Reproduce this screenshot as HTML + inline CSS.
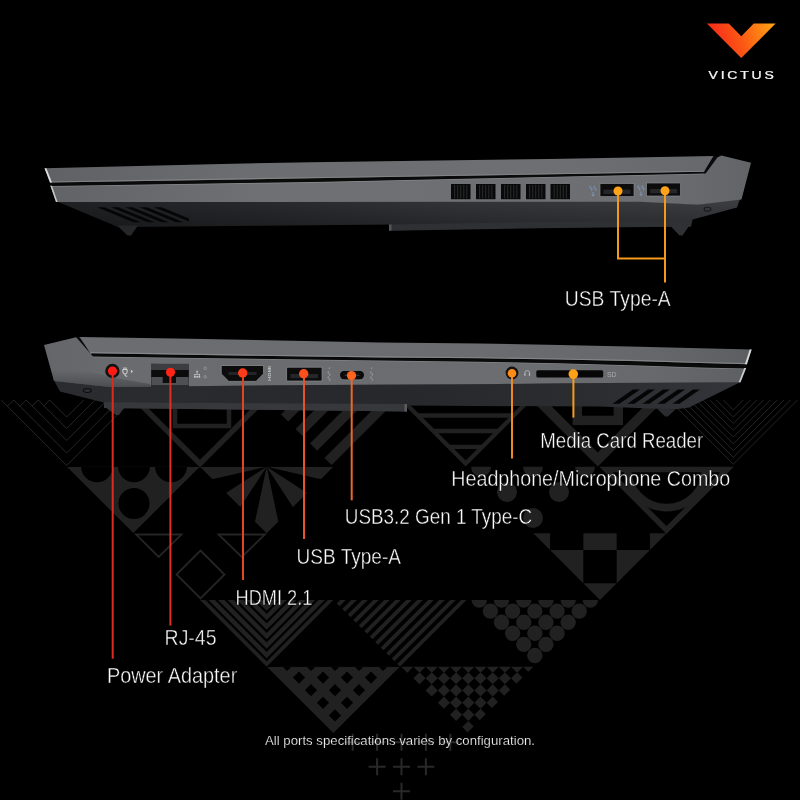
<!DOCTYPE html>
<html><head><meta charset="utf-8"><title>Victus ports</title>
<style>
html,body{margin:0;padding:0;background:#000;}
body{width:800px;height:800px;overflow:hidden;font-family:"Liberation Sans",sans-serif;}
svg{display:block;}
</style></head><body>
<svg width="800" height="800" viewBox="0 0 800 800">
<defs>

<linearGradient id="gLidT" x1="44" y1="0" x2="714" y2="0" gradientUnits="userSpaceOnUse">
 <stop offset="0" stop-color="#5f6164"/><stop offset="0.3" stop-color="#6b6d70"/><stop offset="0.75" stop-color="#6d6f72"/><stop offset="1" stop-color="#66686b"/></linearGradient>
<linearGradient id="gBaseT" x1="50" y1="0" x2="750" y2="0" gradientUnits="userSpaceOnUse">
 <stop offset="0" stop-color="#616366"/><stop offset="0.3" stop-color="#6e7073"/><stop offset="0.85" stop-color="#6c6e71"/><stop offset="1" stop-color="#626467"/></linearGradient>
<linearGradient id="gDark" x1="56" y1="0" x2="740" y2="0" gradientUnits="userSpaceOnUse">
 <stop offset="0" stop-color="#1f2022"/><stop offset="0.3" stop-color="#27282b"/><stop offset="0.6" stop-color="#323337"/><stop offset="1" stop-color="#3b3c40"/></linearGradient>
<linearGradient id="gDarkV" x1="0" y1="203" x2="0" y2="230" gradientUnits="userSpaceOnUse">
 <stop offset="0" stop-color="#000" stop-opacity="0"/><stop offset="1" stop-color="#000" stop-opacity="0.28"/></linearGradient>
<linearGradient id="gLidB" x1="79" y1="0" x2="752" y2="0" gradientUnits="userSpaceOnUse">
 <stop offset="0" stop-color="#6b6d70"/><stop offset="0.6" stop-color="#6a6c6f"/><stop offset="0.85" stop-color="#65676a"/><stop offset="1" stop-color="#5c5e61"/></linearGradient>
<linearGradient id="gBaseB" x1="44" y1="0" x2="747" y2="0" gradientUnits="userSpaceOnUse">
 <stop offset="0" stop-color="#646669"/><stop offset="0.12" stop-color="#696b6e"/><stop offset="0.7" stop-color="#6b6d70"/><stop offset="0.88" stop-color="#66686b"/><stop offset="1" stop-color="#5d5f62"/></linearGradient>
<linearGradient id="gRearShade" x1="0" y1="370" x2="0" y2="387" gradientUnits="userSpaceOnUse">
 <stop offset="0" stop-color="#3a3b3e" stop-opacity="0"/><stop offset="1" stop-color="#3a3b3e" stop-opacity="0.6"/></linearGradient>
<linearGradient id="gDarkB" x1="54" y1="0" x2="741" y2="0" gradientUnits="userSpaceOnUse">
 <stop offset="0" stop-color="#2b2c2f"/><stop offset="0.5" stop-color="#27282b"/><stop offset="0.8" stop-color="#2c2d31"/><stop offset="1" stop-color="#34353a"/></linearGradient>
<linearGradient id="gBandR" x1="640" y1="0" x2="700" y2="0" gradientUnits="userSpaceOnUse">
 <stop offset="0" stop-color="#3b3c40" stop-opacity="0"/><stop offset="1" stop-color="#3b3c40" stop-opacity="0.9"/></linearGradient>
<filter id="fId" x="0" y="0" width="800" height="800" filterUnits="userSpaceOnUse" color-interpolation-filters="sRGB"><feOffset dx="0" dy="0"/></filter>
<linearGradient id="gLogo" x1="707" y1="45" x2="776" y2="25" gradientUnits="userSpaceOnUse">
 <stop offset="0" stop-color="#f5201a"/><stop offset="0.5" stop-color="#fb5a14"/><stop offset="1" stop-color="#ffa812"/></linearGradient>

<clipPath id="c02"><polygon points="266.67,400 400,400 333.33,466.67"/></clipPath>
<clipPath id="c10"><polygon points="66.67,466.67 200,466.67 133.33,533.33"/></clipPath>
<clipPath id="c11"><polygon points="200,466.67 333.33,466.67 266.67,533.33"/></clipPath>
<clipPath id="c23"><polygon points="533.33,533.33 666.66,533.33 600,600"/></clipPath>
<clipPath id="c30"><polygon points="200,600 333.33,600 266.67,666.67"/></clipPath>
<clipPath id="c31"><polygon points="333.33,600 466.66,600 400,666.67"/></clipPath>
<clipPath id="c40"><polygon points="266.67,666.67 400,666.67 333.34,733.33"/></clipPath>
<clipPath id="c41"><polygon points="400,666.67 533.33,666.67 466.67,733.33"/></clipPath>
</defs>
<rect width="800" height="800" fill="#000"/>
<g id="pattern">
<g fill="none" stroke="#272727" stroke-width="1">
<polyline points="49.67,400 66.67,417 83.67,400"/>
<polyline points="49.67,400 43.92,405.75"/>
<polyline points="38.17,400 66.67,428.5 95.17,400"/>
<polyline points="38.17,400 32.17,406"/>
<polyline points="26.17,400 66.67,440.5 107.17,400"/>
<polyline points="26.17,400 19.92,406.25"/>
<polyline points="13.67,400 66.67,453 119.67,400"/>
<polyline points="13.67,400 7.42,406.25"/>
<polyline points="1.17,400 66.67,465.5 132.17,400"/>
</g>
<g fill="none" stroke="#252525" stroke-width="1">
<polyline points="723.3,400 733.3,410 743.3,400"/>
<polyline points="716.3,400 733.3,417 750.3,400"/>
<polyline points="709.8,400 733.3,423.5 756.8,400"/>
<polyline points="703.1,400 733.3,430.2 763.5,400"/>
<polyline points="696.3,400 733.3,437 770.3,400"/>
<polyline points="689.5,400 733.3,443.8 777.1,400"/>
<polyline points="682.7,400 733.3,450.6 783.9,400"/>
<polyline points="676,400 733.3,457.3 790.6,400"/>
<polyline points="669.1,400 733.3,464.2 797.5,400"/>
</g>
<polyline points="134,397.7 200,463.7 266,397.7" fill="none" stroke="#212121" stroke-width="5.5"/>
<rect x="175" y="398" width="54" height="28" fill="none" stroke="#212121" stroke-width="4.5"/>
<polyline points="531.8,393.5 597.8,459.5 663.8,393.5" fill="none" stroke="#212121" stroke-width="9.8" stroke-linejoin="miter"/>
<rect x="577.3" y="396" width="41" height="24.4" fill="none" stroke="#212121" stroke-width="9.4"/>
<g clip-path="url(#c02)" stroke="#212121" stroke-width="10.1">
<line x1="307.6" y1="395" x2="227.6" y2="475"/>
<line x1="336.6" y1="395" x2="256.6" y2="475"/>
<line x1="365.6" y1="395" x2="285.6" y2="475"/>
<line x1="394.6" y1="395" x2="314.6" y2="475"/>
</g>
<g fill="none" stroke="#212121" stroke-width="4.3">
<polygon points="403.7,401.5 527.7,401.5 465.7,463.5"/>
<line x1="417.7" y1="415.5" x2="513.7" y2="415.5"/>
<line x1="433.2" y1="431" x2="498.2" y2="431"/>
<line x1="449" y1="446.8" x2="482.4" y2="446.8"/>
</g>
<path d="M66.67 466.67 L200 466.67 L133.33 533.33 Z M81 466.17 a16 16 0 1 0 32 0 a16 16 0 1 0 -32 0 Z M118 466.17 a16 16 0 1 0 32 0 a16 16 0 1 0 -32 0 Z M155 466.17 a16 16 0 1 0 32 0 a16 16 0 1 0 -32 0 Z M118.5 503.5 a15.5 15.5 0 1 0 31 0 a15.5 15.5 0 1 0 -31 0 Z" fill="#212121" fill-rule="evenodd" clip-path="url(#c10)"/>
<g clip-path="url(#c11)" fill="#212121">
<polygon points="266.67,466.67 386.67,466.67 383.59,493.66" fill="#212121" />
<polygon points="266.67,466.67 367.31,532.02 332.02,567.31" fill="#212121" />
<polygon points="266.67,466.67 291.62,584.04 241.72,584.04" fill="#212121" />
<polygon points="266.67,466.67 201.31,567.31 166.03,532.02" fill="#212121" />
<polygon points="266.67,466.67 149.74,493.66 146.67,466.67" fill="#212121" />
</g>
<g fill="#212121">
<path d="M471 466.67 a10 10 0 0 0 20 0 Z"/>
<path d="M523 466.67 a10 10 0 0 0 20 0 Z"/>
<path d="M575 466.67 a10 10 0 0 0 20 0 Z"/>
<circle cx="507" cy="492" r="10"/>
<circle cx="559" cy="492" r="10"/>
<circle cx="533" cy="518" r="10"/>
</g>
<g fill="none" stroke="#212121">
<polygon points="606,469.47 727,469.47 666.5,529.97" stroke-width="5.6"/>
<path d="M627.5 468.67 a39 39 0 0 0 78 0" stroke-width="7.6"/>
</g>
<g fill="none" stroke="#252525" stroke-width="1.8">
<polygon points="136,534.5 181.5,534.5 158.7,557"/>
<polygon points="218.5,534.5 265,534.5 241.7,557"/>
<polygon points="200.5,550.5 224.5,574.5 200.5,598.5 176.5,574.5"/>
</g>
<g clip-path="url(#c23)" fill="#212121">
<rect x="516.68" y="516.67" width="33.33" height="33.33"/>
<rect x="583.34" y="516.67" width="33.33" height="33.33"/>
<rect x="650" y="516.67" width="33.33" height="33.33"/>
<rect x="550" y="550" width="33.33" height="33.33"/>
<rect x="616.67" y="550" width="33.33" height="33.33"/>
<rect x="583.34" y="583.33" width="33.33" height="33.33"/>
</g>
<g clip-path="url(#c30)" fill="none" stroke="#212121" stroke-width="4.5">
<polyline points="186.67,584.5 266.67,664.5 346.67,584.5"/>
<polyline points="186.67,575 266.67,655 346.67,575"/>
<polyline points="186.67,565.5 266.67,645.5 346.67,565.5"/>
<polyline points="186.67,556 266.67,636 346.67,556"/>
<polyline points="186.67,546.5 266.67,626.5 346.67,546.5"/>
<polyline points="186.67,537 266.67,617 346.67,537"/>
<polyline points="186.67,527.5 266.67,607.5 346.67,527.5"/>
<polyline points="186.67,518 266.67,598 346.67,518"/>
</g>
<g clip-path="url(#c31)" stroke="#212121" stroke-width="3.9">
<line x1="348" y1="595" x2="268" y2="675"/>
<line x1="359" y1="595" x2="279" y2="675"/>
<line x1="370" y1="595" x2="290" y2="675"/>
<line x1="381" y1="595" x2="301" y2="675"/>
<line x1="392" y1="595" x2="312" y2="675"/>
<line x1="403" y1="595" x2="323" y2="675"/>
<line x1="414" y1="595" x2="334" y2="675"/>
<line x1="425" y1="595" x2="345" y2="675"/>
<line x1="436" y1="595" x2="356" y2="675"/>
<line x1="447" y1="595" x2="367" y2="675"/>
<line x1="458" y1="595" x2="378" y2="675"/>
<line x1="469" y1="595" x2="389" y2="675"/>
</g>
<g fill="#212121">
<path d="M471.58 600 a7.7 7.7 0 0 0 15.4 0 Z"/>
<path d="M493.8 600 a7.7 7.7 0 0 0 15.4 0 Z"/>
<path d="M516.03 600 a7.7 7.7 0 0 0 15.4 0 Z"/>
<path d="M538.25 600 a7.7 7.7 0 0 0 15.4 0 Z"/>
<path d="M560.47 600 a7.7 7.7 0 0 0 15.4 0 Z"/>
<path d="M582.69 600 a7.7 7.7 0 0 0 15.4 0 Z"/>
<circle cx="490.39" cy="611.1" r="7.7"/>
<circle cx="512.61" cy="611.1" r="7.7"/>
<circle cx="534.84" cy="611.1" r="7.7"/>
<circle cx="557.06" cy="611.1" r="7.7"/>
<circle cx="579.28" cy="611.1" r="7.7"/>
<circle cx="501.5" cy="622.2" r="7.7"/>
<circle cx="523.73" cy="622.2" r="7.7"/>
<circle cx="545.95" cy="622.2" r="7.7"/>
<circle cx="568.17" cy="622.2" r="7.7"/>
<circle cx="512.61" cy="633.3" r="7.7"/>
<circle cx="534.84" cy="633.3" r="7.7"/>
<circle cx="557.06" cy="633.3" r="7.7"/>
<circle cx="523.73" cy="644.4" r="7.7"/>
<circle cx="545.95" cy="644.4" r="7.7"/>
<circle cx="534.84" cy="655.5" r="7.7"/>
</g>
<path d="M266.67 666.67 L400 666.67 L333.34 733.33 Z M287 658.9 L293.1 665 L287 671.1 L280.9 665 Z M311 658.9 L317.1 665 L311 671.1 L304.9 665 Z M335 658.9 L341.1 665 L335 671.1 L328.9 665 Z M359 658.9 L365.1 665 L359 671.1 L352.9 665 Z M383 658.9 L389.1 665 L383 671.1 L376.9 665 Z M299 671.5 L305.1 677.6 L299 683.7 L292.9 677.6 Z M323 671.5 L329.1 677.6 L323 683.7 L316.9 677.6 Z M347 671.5 L353.1 677.6 L347 683.7 L340.9 677.6 Z M371 671.5 L377.1 677.6 L371 683.7 L364.9 677.6 Z M311 684.1 L317.1 690.2 L311 696.3 L304.9 690.2 Z M335 684.1 L341.1 690.2 L335 696.3 L328.9 690.2 Z M359 684.1 L365.1 690.2 L359 696.3 L352.9 690.2 Z M323 696.7 L329.1 702.8 L323 708.9 L316.9 702.8 Z M347 696.7 L353.1 702.8 L347 708.9 L340.9 702.8 Z M335 709.3 L341.1 715.4 L335 721.5 L328.9 715.4 Z " fill="#212121" fill-rule="evenodd" clip-path="url(#c40)"/>
<g clip-path="url(#c41)" fill="#212121">
<polygon points="407.3,660.57 413.4,666.67 407.3,672.77 401.2,666.67" fill="#212121" />
<polygon points="419.5,660.57 425.6,666.67 419.5,672.77 413.4,666.67" fill="#212121" />
<polygon points="431.7,660.57 437.8,666.67 431.7,672.77 425.6,666.67" fill="#212121" />
<polygon points="443.9,660.57 450,666.67 443.9,672.77 437.8,666.67" fill="#212121" />
<polygon points="456.1,660.57 462.2,666.67 456.1,672.77 450,666.67" fill="#212121" />
<polygon points="468.3,660.57 474.4,666.67 468.3,672.77 462.2,666.67" fill="#212121" />
<polygon points="480.5,660.57 486.6,666.67 480.5,672.77 474.4,666.67" fill="#212121" />
<polygon points="492.7,660.57 498.8,666.67 492.7,672.77 486.6,666.67" fill="#212121" />
<polygon points="504.9,660.57 511,666.67 504.9,672.77 498.8,666.67" fill="#212121" />
<polygon points="517.1,660.57 523.2,666.67 517.1,672.77 511,666.67" fill="#212121" />
<polygon points="529.3,660.57 535.4,666.67 529.3,672.77 523.2,666.67" fill="#212121" />
<polygon points="419.5,672.17 425.6,678.27 419.5,684.37 413.4,678.27" fill="#212121" />
<polygon points="431.7,672.17 437.8,678.27 431.7,684.37 425.6,678.27" fill="#212121" />
<polygon points="443.9,672.17 450,678.27 443.9,684.37 437.8,678.27" fill="#212121" />
<polygon points="456.1,672.17 462.2,678.27 456.1,684.37 450,678.27" fill="#212121" />
<polygon points="468.3,672.17 474.4,678.27 468.3,684.37 462.2,678.27" fill="#212121" />
<polygon points="480.5,672.17 486.6,678.27 480.5,684.37 474.4,678.27" fill="#212121" />
<polygon points="492.7,672.17 498.8,678.27 492.7,684.37 486.6,678.27" fill="#212121" />
<polygon points="504.9,672.17 511,678.27 504.9,684.37 498.8,678.27" fill="#212121" />
<polygon points="517.1,672.17 523.2,678.27 517.1,684.37 511,678.27" fill="#212121" />
<polygon points="431.7,684.37 437.8,690.47 431.7,696.57 425.6,690.47" fill="#212121" />
<polygon points="443.9,684.37 450,690.47 443.9,696.57 437.8,690.47" fill="#212121" />
<polygon points="456.1,684.37 462.2,690.47 456.1,696.57 450,690.47" fill="#212121" />
<polygon points="468.3,684.37 474.4,690.47 468.3,696.57 462.2,690.47" fill="#212121" />
<polygon points="480.5,684.37 486.6,690.47 480.5,696.57 474.4,690.47" fill="#212121" />
<polygon points="492.7,684.37 498.8,690.47 492.7,696.57 486.6,690.47" fill="#212121" />
<polygon points="504.9,684.37 511,690.47 504.9,696.57 498.8,690.47" fill="#212121" />
<polygon points="443.9,696.57 450,702.67 443.9,708.77 437.8,702.67" fill="#212121" />
<polygon points="456.1,696.57 462.2,702.67 456.1,708.77 450,702.67" fill="#212121" />
<polygon points="468.3,696.57 474.4,702.67 468.3,708.77 462.2,702.67" fill="#212121" />
<polygon points="480.5,696.57 486.6,702.67 480.5,708.77 474.4,702.67" fill="#212121" />
<polygon points="492.7,696.57 498.8,702.67 492.7,708.77 486.6,702.67" fill="#212121" />
<polygon points="456.1,708.77 462.2,714.87 456.1,720.97 450,714.87" fill="#212121" />
<polygon points="468.3,708.77 474.4,714.87 468.3,720.97 462.2,714.87" fill="#212121" />
<polygon points="480.5,708.77 486.6,714.87 480.5,720.97 474.4,714.87" fill="#212121" />
<polygon points="468.3,720.97 474.4,727.07 468.3,733.17 462.2,727.07" fill="#212121" />
</g>
<g stroke="#292929" stroke-width="2" fill="none">
<path d="M344.2 742.3 h17 M352.7 733.8 v17"/>
<path d="M368.6 742.3 h17 M377.1 733.8 v17"/>
<path d="M393 742.3 h17 M401.5 733.8 v17"/>
<path d="M417.4 742.3 h17 M425.9 733.8 v17"/>
<path d="M441.8 742.3 h17 M450.3 733.8 v17"/>
<path d="M368.6 766.8 h17 M377.1 758.3 v17"/>
<path d="M393 766.8 h17 M401.5 758.3 v17"/>
<path d="M417.4 766.8 h17 M425.9 758.3 v17"/>
<path d="M393 791.3 h17 M401.5 782.8 v17"/>
</g>
</g>
<!-- ================= TOP LAPTOP (right side view) ================= -->
<g id="lap-top">
  <!-- dark underside -->
  <polygon points="56,201 640,201 697.8,204.5 740,199 737,207.5 692.5,219.6 691,226.5 540,227.5 389,230.5 389,224.5 118,227" fill="url(#gDark)"/>
  <polygon points="56,201 640,201 697.8,204.5 740,199 737,207.5 692.5,219.6 691,226.5 540,227.5 389,230.5 389,224.5 118,227" fill="url(#gDarkV)"/>
  <!-- ledge (slightly lighter strip) -->
  <polygon points="389,224.5 540,222 691,220.3 691,226.5 540,228.3 389,230.7" fill="#2f3034"/>
  <polygon points="389,224.5 391.5,224.5 391.5,230.6 389,230.7" fill="#55565a"/>
  <!-- feet -->
  <polygon points="117,225.5 138,225.5 131,235.5 127.5,235.5" fill="#262729"/>
  <polygon points="670.5,226 689,226 682.5,235.4 679.5,235.4" fill="#303135"/>
  <!-- base silver band incl. rear block -->
  <polygon points="50.3,185.6 310,181.7 704,173.1 715,158.4 721.4,155.4 751,162.8 741.5,199.5 697.8,204.8 640,201.8 56,202" fill="url(#gBaseT)"/>
  <polygon points="50.3,185.6 310,181.7 704,173.1 704,174.3 310,182.9 50.7,186.8" fill="#8c8e91" opacity="0.7"/>
  <!-- gap shadow -->
  <polygon points="49.5,181.5 704,171 714.3,156 717.6,157.3 705.6,173.5 310,182 50.5,185.9" fill="#0a0a0b"/>
  <!-- lid -->
  <polygon points="44.5,168.2 200,164.5 310,162.2 550,158.9 713.5,156 704,171.8 310,178.3 50,182.6" fill="url(#gLidT)"/>
  <polygon points="50,182.6 310,178.3 704,171.8 704.6,170.7 310,177.2 49.6,181.5" fill="#88898c" opacity="0.8"/>
  <polygon points="44.5,168.2 46.4,168.15 52,182.5 50,182.6" fill="#dcdddf"/>
  <polygon points="50.4,185.7 52,185.7 57.6,202 56,202" fill="#c9cacc"/>
  <!-- left slanted vents -->
  <g fill="#060607">
    <polygon points="97,207.2 104.5,207.2 141,222.2 133.5,222.2"/>
    <polygon points="111,207.2 118.5,207.2 155,222.2 147.5,222.2"/>
    <polygon points="125,207.2 132.5,207.2 169,222.2 161.5,222.2"/>
    <polygon points="139.5,207.2 147,207.2 183.5,222.2 176,222.2"/>
    <polygon points="154,207.2 161.5,207.2 189,218.5 189,221.6"/>
  </g>
  <!-- rectangular vents -->
  <g fill="#09090a">
    <rect x="451" y="184" width="19.5" height="15.2"/>
    <rect x="476" y="184" width="19.5" height="15.2"/>
    <rect x="501" y="184" width="19.5" height="15.2"/>
    <rect x="526" y="184" width="19.5" height="15.2"/>
    <rect x="550.5" y="184" width="19.5" height="15.2"/>
  </g>
  <g stroke="#2b2c2f" stroke-width="1" fill="none">
    <path d="M454.65 185v13.4M457.7 185v13.4M460.75 185v13.4M463.8 185v13.4M466.85 185v13.4M479.65 185v13.4M482.7 185v13.4M485.75 185v13.4M488.8 185v13.4M491.85 185v13.4M504.65 185v13.4M507.7 185v13.4M510.75 185v13.4M513.8 185v13.4M516.85 185v13.4M529.65 185v13.4M532.7 185v13.4M535.75 185v13.4M538.8 185v13.4M541.85 185v13.4M554.15 185v13.4M557.2 185v13.4M560.25 185v13.4M563.3 185v13.4M566.35 185v13.4"/>
  </g>
  <!-- USB-A ports -->
  <rect x="600" y="183.6" width="34" height="13" fill="#0c0c0d" stroke="#85878a" stroke-width="0.7"/>
  <rect x="603.5" y="189.6" width="27" height="4.3" fill="#252629"/>
  <rect x="646.6" y="183" width="34" height="13" fill="#0c0c0d" stroke="#85878a" stroke-width="0.7"/>
  <rect x="650.1" y="189" width="27" height="4.3" fill="#252629"/>
  <!-- SS icons -->
  <g fill="none" stroke="#86a6d6" stroke-width="0.8" opacity="0.9">
    <path d="M591 186.2c-1.6 0-1.6 2.2 0 2.2s1.6 2.2 0 2.2 M595 186.2c-1.6 0-1.6 2.2 0 2.2s1.6 2.2 0 2.2 M593 191.8v4 M591.6 194.6l1.4 1.4 1.4-1.4"/>
    <path d="M639 185.7c-1.6 0-1.6 2.2 0 2.2s1.6 2.2 0 2.2 M643 185.7c-1.6 0-1.6 2.2 0 2.2s1.6 2.2 0 2.2 M641 191.3v4 M639.6 194.1l1.4 1.4 1.4-1.4"/>
  </g>
  <!-- lock icon -->
  <ellipse cx="707.5" cy="209.2" rx="3.4" ry="1.9" fill="none" stroke="#1a1a1c" stroke-width="1.1"/>
</g>

<!-- ================= BOTTOM LAPTOP (left side view) ================= -->
<g id="lap-bot">
  <!-- dark underside -->
  <polygon points="54,380.5 110,386.5 270,385 500,383.7 560,383 700,382.3 740.6,382 689,407.6 674,409.5 657,408.8 600,406.6 407,405.6 407,411.5 104,408 103.8,402.5 60,391.5" fill="url(#gDarkB)"/>
  <!-- ledge -->
  <polygon points="104,402.3 407,404 407,411.5 104,408" fill="#37383c"/>
  <polygon points="404.5,404 407,404 407,411.5 404.5,411.4" fill="#5c5d61"/>
  <!-- feet -->
  <polygon points="105.5,407.5 124,408 118.8,415 116,415" fill="#35363a"/>
  <polygon points="657,408.5 675.5,409.5 667.8,416.6 665,416.6" fill="#2b2c30"/>
  <!-- base silver band incl rear block -->
  <polygon points="44,345 76,337.2 81,337.6 93,356 180,357.3 380,360.1 480,361.3 560,362.9 640,365 700,367.1 746,368.1 740.3,382.2 700,382.6 560,383.2 500,384 270,385.3 110,387 54,381" fill="url(#gBaseB)"/>
  <polygon points="93,356 180,357.3 380,360.1 480,361.3 560,362.9 640,365 700,367.1 746,368.1 746,369.3 700,368.3 640,366.2 560,364.1 480,362.5 380,361.3 180,358.5 93,357.2" fill="#8d8f92" opacity="0.7"/>
  <!-- soft shading at bottom of rear block -->
  <polygon points="49.5,365 80,369 115,378 150,384 151,386.6 110,387 54,381" fill="url(#gRearShade)"/>
  <!-- gap shadow -->
  <polygon points="76,336.9 81.5,337.3 90.5,353.8 250,356.3 380,358 480,358.9 560,360.1 640,361.8 700,363.6 746.8,364.8 746,368.5 700,367.5 640,365.4 560,363.3 480,361.7 380,360.5 180,357.7 93,356.4" fill="#0a0a0b"/>
  <!-- lid -->
  <polygon points="79.5,337 190,338.8 380,342.4 480,343.5 560,345 640,346.8 700,348.3 751.5,349.5 746.8,364.2 700,363 640,361.2 560,359.5 480,358.3 380,357.4 250,355.7 90.5,353.2" fill="url(#gLidB)"/>
  <polygon points="90.5,353.2 250,355.7 380,357.4 480,358.3 560,359.5 640,361.2 700,363 746.8,364.2 746.8,363.1 700,361.9 640,360.1 560,358.4 480,357.2 380,356.3 250,354.6 90.5,352.1" fill="#8b8d90" opacity="0.8"/>
  <polygon points="749.7,349.5 751.7,349.5 746.9,364.2 744.9,364.2" fill="#d9dadc"/>
  <polygon points="744.3,368.1 746.2,368.1 740.5,382.2 738.7,382.2" fill="#cbccce"/>
  <!-- right slanted vents -->
  <g fill="#050506">
    <polygon points="633,389.5 640,389.5 619.5,403.8 612.5,403.8"/>
    <polygon points="648,389.5 655,389.5 634.5,403.8 627.5,403.8"/>
    <polygon points="663,389.5 670,389.5 649.5,403.8 642.5,403.8"/>
    <polygon points="678,389.5 685,389.5 664.5,403.8 657.5,403.8"/>
    <polygon points="693,389.5 700,389.5 679.5,403.8 672.5,403.8"/>
  </g>
  <!-- power jack -->
  <circle cx="112.4" cy="371" r="7.2" fill="#121213"/>
  <!-- power icon -->
  <g fill="none" stroke="#e2e2e2" stroke-width="0.9">
    <path d="M122.9 369.4h4.2v2.6a2.1 2.1 0 0 1 -4.2 0z M125 374.1v0.8a1.3 1.3 0 0 0 1.3 1.3h1 M124 367.3v2.1 M126 367.3v2.1"/>
  </g>
  <path d="M131 369.8l2 1.6-2 1.6z" fill="#cfcfd1"/>
  <circle cx="131.8" cy="371.4" r="2.3" fill="none" stroke="#77797c" stroke-width="0.5"/>
  <!-- RJ-45 -->
  <polygon points="151,363.8 189,364.4 189,402.5 151,402" fill="#2a2b2e"/>
  <rect x="151" y="363.8" width="38" height="6.4" fill="#3c3d40"/>
  <rect x="151.5" y="370" width="37" height="7.2" fill="#0b0b0c"/>
  <polygon points="151.5,377 162.8,377 162.8,383 176,383 176,377 188.5,377 188.5,385 151.5,385" fill="#4e5053"/>
  <rect x="162.8" y="377" width="13.2" height="6" fill="#0d0d0e"/>
  <!-- lan icon + leds -->
  <g fill="#c8c9cb">
    <rect x="194" y="376" width="1.6" height="1.7"/><rect x="196.3" y="376" width="1.6" height="1.7"/><rect x="198.6" y="376" width="1.6" height="1.7"/>
    <rect x="196.3" y="370.8" width="1.6" height="1.7"/>
    <rect x="194.5" y="374" width="5.2" height="0.7"/><rect x="196.8" y="372.5" width="0.7" height="1.5"/>
    <rect x="194.5" y="374" width="0.7" height="2"/><rect x="199" y="374" width="0.7" height="2"/>
  </g>
  <circle cx="205.2" cy="368.3" r="1.3" fill="none" stroke="#a7a8aa" stroke-width="0.6"/>
  <circle cx="205.2" cy="376.9" r="1.3" fill="none" stroke="#a7a8aa" stroke-width="0.6"/>
  <!-- HDMI -->
  <path d="M221.2 365.5h42.4v8.3l-7.6 7.6h-27.2l-7.6-7.6z" fill="#0c0c0d" stroke="#898b8e" stroke-width="0.8"/>
  <rect x="228.5" y="372" width="28" height="3" fill="#232427"/>
  <g filter="url(#fId)"><text transform="translate(271.3,381) rotate(-90)" font-family="Liberation Sans, sans-serif" font-size="3.6" font-weight="bold" fill="#bfc0c2" textLength="15" lengthAdjust="spacingAndGlyphs">HDMI</text></g>
  <!-- USB-A -->
  <rect x="286.7" y="367.2" width="35.3" height="13.8" fill="#0c0c0d" stroke="#898b8e" stroke-width="0.7"/>
  <rect x="290.5" y="374" width="27.5" height="4.2" fill="#252629"/>
  <g fill="none" stroke="#b9bbc0" stroke-width="0.7" opacity="0.8">
    <path d="M329 371.5c-1.5 0-1.5 2.1 0 2.1s1.5 2.1 0 2.1 M329 376.5c-1.5 0-1.5 2.1 0 2.1s1.5 2.1 0 2.1 M329.8 367.3l-1 1.8"/>
    <path d="M371.6 371.5c-1.5 0-1.5 2.1 0 2.1s1.5 2.1 0 2.1 M371.6 376.5c-1.5 0-1.5 2.1 0 2.1s1.5 2.1 0 2.1 M372.4 367.3l-1 1.8"/>
  </g>
  <!-- USB-C -->
  <rect x="339.5" y="370.4" width="25" height="9.4" rx="4.7" fill="#0b0b0c" stroke="#85878a" stroke-width="0.7"/>
  <rect x="344.5" y="374.4" width="15" height="1.5" rx="0.75" fill="#2e2f32"/>
  <!-- headphone jack -->
  <circle cx="512" cy="373" r="6.4" fill="#121213"/>
  <path d="M524.8 374.2v-1.2a2.4 2.4 0 0 1 4.8 0v1.2" fill="none" stroke="#b9bbbd" stroke-width="0.8"/>
  <rect x="524.3" y="373.6" width="1.3" height="2.2" fill="#b9bbbd"/><rect x="528.8" y="373.6" width="1.3" height="2.2" fill="#b9bbbd"/>
  <!-- SD slot -->
  <rect x="536.3" y="370.2" width="66.9" height="7.4" rx="1.5" fill="#070708"/>
  <text x="607" y="377.2" font-family="Liberation Sans, sans-serif" font-size="7" fill="#a9aaac" textLength="9.6" filter="url(#fId)" lengthAdjust="spacingAndGlyphs">SD</text>
  <!-- lock icon -->
  <ellipse cx="87.3" cy="390.6" rx="4" ry="1.9" fill="#2f3033" stroke="#0c0c0e" stroke-width="1.1"/>
</g>

<!-- ================= CALLOUT LINES + DOTS ================= -->
<g id="callouts" fill="none" stroke-width="2">
  <path d="M618 191V258.6H665" stroke="#f39a1e"/>
  <path d="M665 191V282.5" stroke="#f39a1e"/>
  <path d="M112.7 371V658.8" stroke="#df2a20"/>
  <path d="M170.4 372V625.6" stroke="#e02f21"/>
  <path d="M243 373V580" stroke="#e24526"/>
  <path d="M304 373.5V539" stroke="#e65529"/>
  <path d="M351.7 375V500.3" stroke="#ea662a"/>
  <path d="M512 373V458.4" stroke="#ee8a24"/>
  <path d="M573.4 374V417.6" stroke="#f39b1f"/>
</g>
<g id="dots">
  <circle cx="618" cy="191" r="4.5" fill="#ffa31a"/>
  <circle cx="665" cy="190.8" r="4.5" fill="#ffa31a"/>
  <circle cx="112.5" cy="371" r="4.6" fill="#ff1a14"/>
  <circle cx="170.5" cy="372.3" r="4.6" fill="#ff2416"/>
  <circle cx="242.7" cy="373" r="4.7" fill="#ff3c1a"/>
  <circle cx="303.7" cy="373.8" r="4.7" fill="#ff501c"/>
  <circle cx="351.5" cy="375.6" r="4.6" fill="#ff641e"/>
  <circle cx="512" cy="373.2" r="4.3" fill="#fd8b16"/>
  <circle cx="573.3" cy="374.1" r="4.8" fill="#ffa116"/>
</g>
<!-- ================= LABELS ================= -->
<g id="labels" filter="url(#fId)" font-family="Liberation Sans, sans-serif" font-size="22.4" fill="#fbfbfb" stroke="#000" stroke-width="0.42" paint-order="fill stroke">
  <text x="564.8" y="306.2" textLength="105.9" lengthAdjust="spacingAndGlyphs">USB Type-A</text>
  <text x="540.3" y="447.5" textLength="162.9" lengthAdjust="spacingAndGlyphs">Media Card Reader</text>
  <text x="451.3" y="485.7" textLength="278.9" lengthAdjust="spacingAndGlyphs">Headphone/Microphone Combo</text>
  <text x="344.8" y="524" textLength="187.4" lengthAdjust="spacingAndGlyphs">USB3.2 Gen 1 Type-C</text>
  <text x="296.6" y="564.3" textLength="104.4" lengthAdjust="spacingAndGlyphs">USB Type-A</text>
  <text x="235.6" y="604.8" textLength="76.7" lengthAdjust="spacingAndGlyphs">HDMI 2.1</text>
  <text x="164.6" y="644.7" textLength="51.9" lengthAdjust="spacingAndGlyphs">RJ-45</text>
  <text x="106.9" y="683" textLength="130.4" lengthAdjust="spacingAndGlyphs">Power Adapter</text>
  <text x="265" y="744.5" font-size="13.5" fill="#f4f4f4" stroke-width="0.2" textLength="270" lengthAdjust="spacingAndGlyphs">All ports specifications varies by configuration.</text>
</g>
<!-- ================= LOGO ================= -->
<g id="logo" filter="url(#fId)">
  <polygon points="706.9,23.5 728.75,23.5 741.25,36.25 753.75,23.5 775.6,23.5 741.25,58" fill="url(#gLogo)"/>
  <text transform="translate(708.6,78.6) scale(1.32,1)" font-family="Liberation Sans, sans-serif" font-size="10.6" fill="#f6f6f6" stroke="#f6f6f6" stroke-width="0.25" letter-spacing="2.1">VICTUS</text>
</g>

</svg>
</body></html>
